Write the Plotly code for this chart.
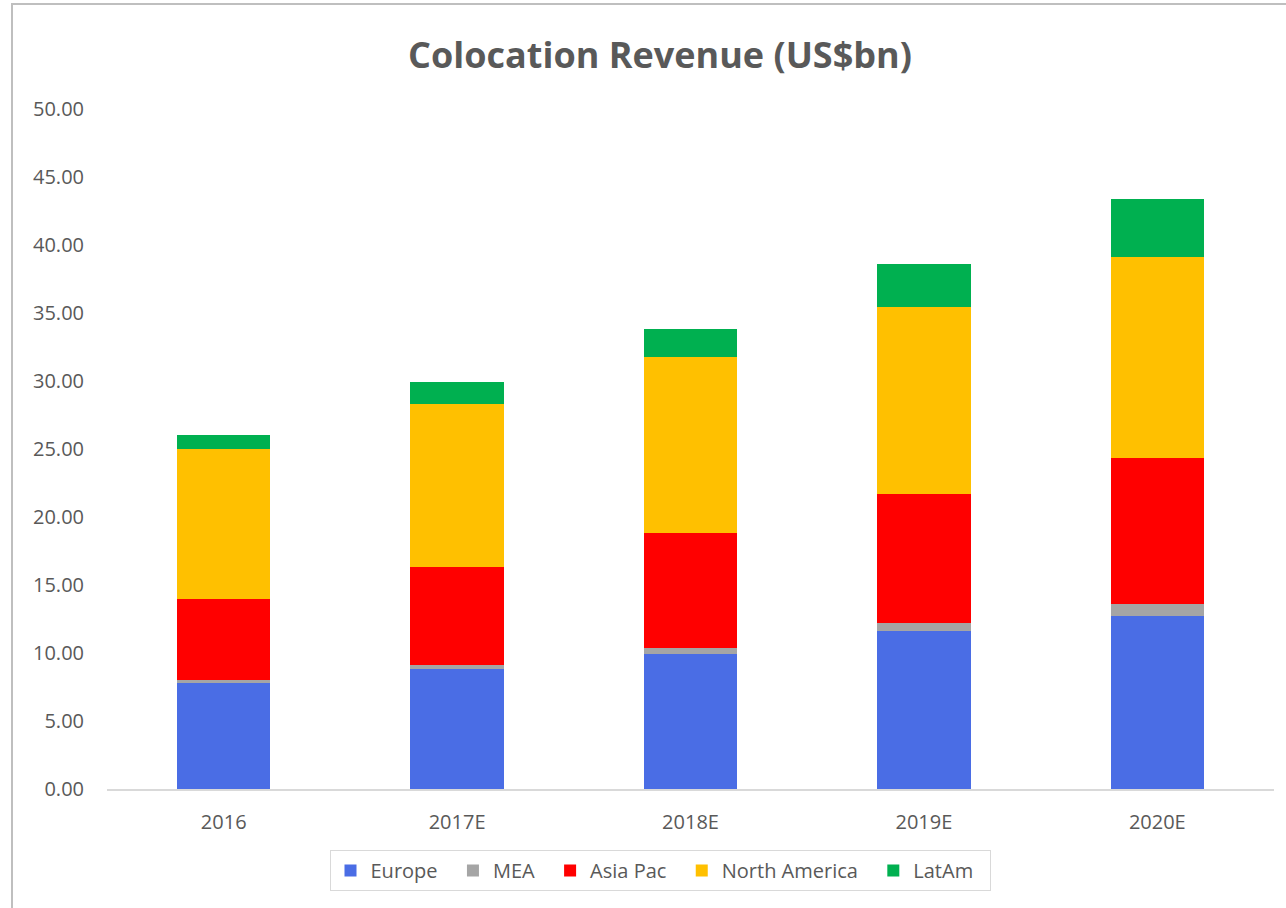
import plotly.graph_objects as go

categories = ["2016", "2017E", "2018E", "2019E", "2020E"]
europe = [7.80, 8.80, 9.95, 11.65, 12.75]
mea = [0.20, 0.35, 0.45, 0.55, 0.85]
asia_pac = [6.00, 7.15, 8.45, 9.50, 10.75]
north_america = [11.00, 12.00, 12.95, 13.75, 14.80]
latam = [1.00, 1.60, 2.00, 3.15, 4.25]

series = [
    ("Europe", europe, "#4a6de5"),
    ("MEA", mea, "#a5a5a5"),
    ("Asia Pac", asia_pac, "#ff0000"),
    ("North America", north_america, "#ffc000"),
    ("LatAm", latam, "#00b050"),
]

fig = go.Figure()
for name, vals, col in series:
    fig.add_trace(go.Bar(x=categories, y=vals, name=name + "\u00a0\u00a0", marker_color=col,
                         marker_line_width=0))

W, H = 1286, 908
L, R, T, B = 107, 12, 109, 119
pw, ph = W - L - R, H - T - B

def px(x):
    return (x - L) / pw

def py(y):
    return (H - B - y) / ph

fig.update_layout(
    width=W, height=H,
    barmode="stack", bargap=0.6,
    margin=dict(l=L, r=R, t=T, b=B, autoexpand=False),
    paper_bgcolor="white", plot_bgcolor="white",
    font=dict(family="Open Sans", color="#595959", size=20),
    title=dict(text="<b>Colocation Revenue (US$bn)</b>", x=660 / W, xanchor="center",
               y=1 - 55 / H, yanchor="middle",
               font=dict(family="Open Sans", size=36, color="#595959")),
    xaxis=dict(showgrid=False, showline=True, linecolor="#d9d9d9", linewidth=2,
               ticks="outside", ticklen=14, tickcolor="rgba(0,0,0,0)",
               tickfont=dict(size=20, color="#595959")),
    yaxis=dict(range=[0, 50], dtick=5, tickformat=".2f", showgrid=False,
               zeroline=False, showline=False, ticks="outside", ticklen=18,
               tickcolor="rgba(0,0,0,0)", tickfont=dict(size=20, color="#595959")),
    legend=dict(orientation="h", x=px(660), xanchor="center", y=py(850), yanchor="top",
                bordercolor="#d9d9d9", borderwidth=1, font=dict(size=20, color="#595959"),
                traceorder="normal", itemwidth=30),
    showlegend=True,
)
fig.add_shape(type="rect", xref="paper", yref="paper",
              x0=px(12), x1=px(1292), y0=py(914), y1=py(4),
              line=dict(color="#bfbfbf", width=2), fillcolor="rgba(0,0,0,0)", layer="below")

fig.write_html("out.html", config={"displayModeBar": False},
               post_script="document.body.style.margin='0';")
